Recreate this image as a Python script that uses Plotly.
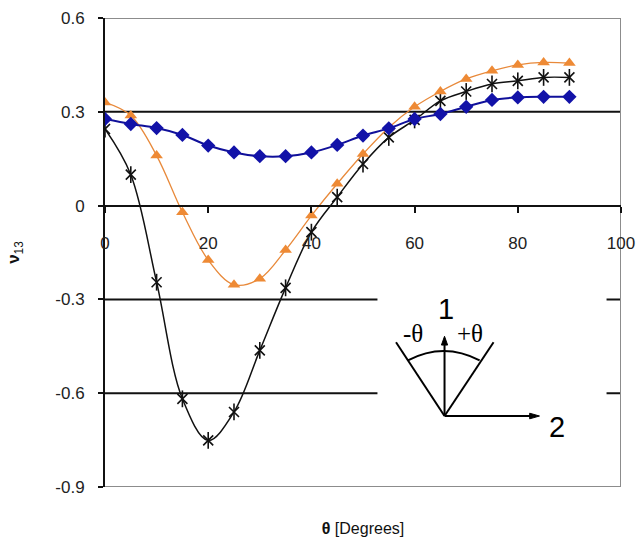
import plotly.graph_objects as go

# ---- data ----
theta = [0, 5, 10, 15, 20, 25, 30, 35, 40, 45, 50, 55, 60, 65, 70, 75, 80, 85, 90]
blue_vals = [0.277, 0.261, 0.248, 0.226, 0.192, 0.170, 0.158, 0.158, 0.170, 0.194,
             0.224, 0.247, 0.277, 0.293, 0.316, 0.338, 0.346, 0.348, 0.348]
orange_vals = [0.330, 0.288, 0.160, -0.021, -0.174, -0.253, -0.234, -0.142, -0.032, 0.070,
               0.165, 0.250, 0.316, 0.365, 0.405, 0.431, 0.450, 0.458, 0.456]
black_vals = [0.245, 0.099, -0.245, -0.618, -0.751, -0.660, -0.463, -0.263, -0.085, 0.027,
              0.133, 0.218, 0.274, 0.335, 0.365, 0.389, 0.399, 0.410, 0.410]
x_ticks = [0, 20, 40, 60, 80, 100]
x_ticktext = ["0", "20", "40", "60", "80", "100"]
y_ticks = [0.6, 0.3, 0, -0.3, -0.6, -0.9]
y_ticktext = ["0.6", "0.3", "0", "-0.3", "-0.6", "-0.9"]
grid_black = [0.3, -0.3, -0.6]
x_title = "<b>θ</b> [Degrees]"
y_title = "<b>ν</b><sub>13</sub>"

X_RANGE = [0, 100]
Y_RANGE = [-0.9, 0.6]

fig = go.Figure()

fig.add_trace(go.Scatter(
    x=theta, y=black_vals, mode="lines+markers",
    line=dict(color="#111111", width=1.5, shape="spline", smoothing=1),
    marker=dict(symbol="x-thin-open", size=10, color="#111111",
                line=dict(color="#111111", width=1.6)),
    showlegend=False))
fig.add_trace(go.Scatter(
    x=theta, y=black_vals, mode="markers",
    marker=dict(symbol="line-ns-open", size=12, color="#111111",
                line=dict(color="#111111", width=1.6)),
    showlegend=False))
fig.add_trace(go.Scatter(
    x=theta, y=orange_vals, mode="lines+markers",
    line=dict(color="#E8893A", width=1.3, shape="spline", smoothing=1),
    marker=dict(symbol="triangle-up", size=11, color="#EE8A35"),
    showlegend=False))
fig.add_trace(go.Scatter(
    x=theta, y=blue_vals, mode="lines+markers",
    line=dict(color="#10109A", width=2, shape="spline", smoothing=1),
    marker=dict(symbol="diamond", size=11, color="#1212A8"),
    showlegend=False))

shapes = []
# horizontal black grid lines
for v in grid_black:
    shapes.append(dict(type="line", xref="x", yref="y", x0=X_RANGE[0], x1=X_RANGE[1],
                       y0=v, y1=v, line=dict(color="#111111", width=2), layer="below"))
# gray border: top, right, bottom
border = dict(color="#8c8c8c", width=2)
shapes.append(dict(type="line", xref="x", yref="y", x0=X_RANGE[0], x1=X_RANGE[1],
                   y0=Y_RANGE[1], y1=Y_RANGE[1], line=border, layer="below"))
shapes.append(dict(type="line", xref="x", yref="y", x0=X_RANGE[0], x1=X_RANGE[1],
                   y0=Y_RANGE[0], y1=Y_RANGE[0], line=border, layer="below"))
shapes.append(dict(type="line", xref="x", yref="y", x0=X_RANGE[1], x1=X_RANGE[1],
                   y0=Y_RANGE[0], y1=Y_RANGE[1], line=border, layer="below"))

# inset diagram (white box + lines + arrows)
shapes.append(dict(type="rect", xref="x", yref="y", x0=52.8, x1=97.2, y0=-0.78, y1=-0.24,
                   fillcolor="white", line=dict(width=0), layer="above"))
diag = dict(color="black", width=2)
shapes.append(dict(type="line", xref="x", yref="y", x0=65.8, y0=-0.673, x1=56.4, y1=-0.437,
                   line=diag, layer="above"))
shapes.append(dict(type="line", xref="x", yref="y", x0=65.8, y0=-0.673, x1=75.3, y1=-0.437,
                   line=diag, layer="above"))
shapes.append(dict(type="path", xref="x", yref="y",
                   path="M 58.7,-0.495 Q 65.65,-0.435 72.6,-0.495",
                   line=diag, layer="above"))
# vertical arrow (axis 1)
shapes.append(dict(type="line", xref="x", yref="y", x0=65.8, y0=-0.673, x1=65.8, y1=-0.44,
                   line=diag, layer="above"))
shapes.append(dict(type="path", xref="x", yref="y",
                   path="M 65.8,-0.418 L 65.2,-0.446 L 66.4,-0.446 Z",
                   fillcolor="black", line=dict(color="black", width=1), layer="above"))
# horizontal arrow (axis 2)
shapes.append(dict(type="line", xref="x", yref="y", x0=65.8, y0=-0.673, x1=82.6, y1=-0.673,
                   line=diag, layer="above"))
shapes.append(dict(type="path", xref="x", yref="y",
                   path="M 84.2,-0.673 L 82.3,-0.664 L 82.3,-0.682 Z",
                   fillcolor="black", line=dict(color="black", width=1), layer="above"))
fig.update_layout(shapes=shapes)

annotations = [
    dict(x=66.0, y=-0.33, xref="x", yref="y", text="1", showarrow=False,
         font=dict(family="Liberation Sans, Arial", size=29, color="black")),
    dict(x=87.6, y=-0.708, xref="x", yref="y", text="2", showarrow=False,
         font=dict(family="Liberation Sans, Arial", size=29, color="black")),
    dict(x=59.6, y=-0.41, xref="x", yref="y", text="-θ", showarrow=False,
         font=dict(family="Liberation Serif, Times New Roman", size=25, color="black")),
    dict(x=70.8, y=-0.41, xref="x", yref="y", text="+θ", showarrow=False,
         font=dict(family="Liberation Serif, Times New Roman", size=25, color="black")),
]
fig.update_layout(annotations=annotations)

fig.update_layout(
    width=640, height=545,
    margin=dict(l=105, r=19, t=18, b=57.5, autoexpand=False),
    paper_bgcolor="white", plot_bgcolor="white",
    xaxis=dict(range=X_RANGE, tickvals=x_ticks, ticktext=x_ticktext,
               showgrid=False, zeroline=False, showline=True, linecolor="#111111", linewidth=2,
               ticks="outside", ticklen=6, tickwidth=2, tickcolor="#111111",
               anchor="free", position=(0 - Y_RANGE[0]) / (Y_RANGE[1] - Y_RANGE[0]),
               ticklabelstandoff=16,
               tickfont=dict(family="Liberation Sans, Arial", size=17, color="#222222"),
               title=dict(text=x_title, standoff=270,
                          font=dict(family="Liberation Sans, Arial", size=16, color="#111111"))),
    yaxis=dict(range=Y_RANGE, tickvals=y_ticks, ticktext=y_ticktext,
               showgrid=False, zeroline=False, showline=True, linecolor="#111111", linewidth=2,
               ticks="outside", ticklen=5, tickwidth=2, tickcolor="#111111",
               ticklabelstandoff=10,
               tickfont=dict(family="Liberation Sans, Arial", size=17, color="#222222"),
               title=dict(text=y_title, standoff=31,
                          font=dict(family="Liberation Sans, Arial", size=17, color="#111111"))),
)

fig.write_html("out.html")
